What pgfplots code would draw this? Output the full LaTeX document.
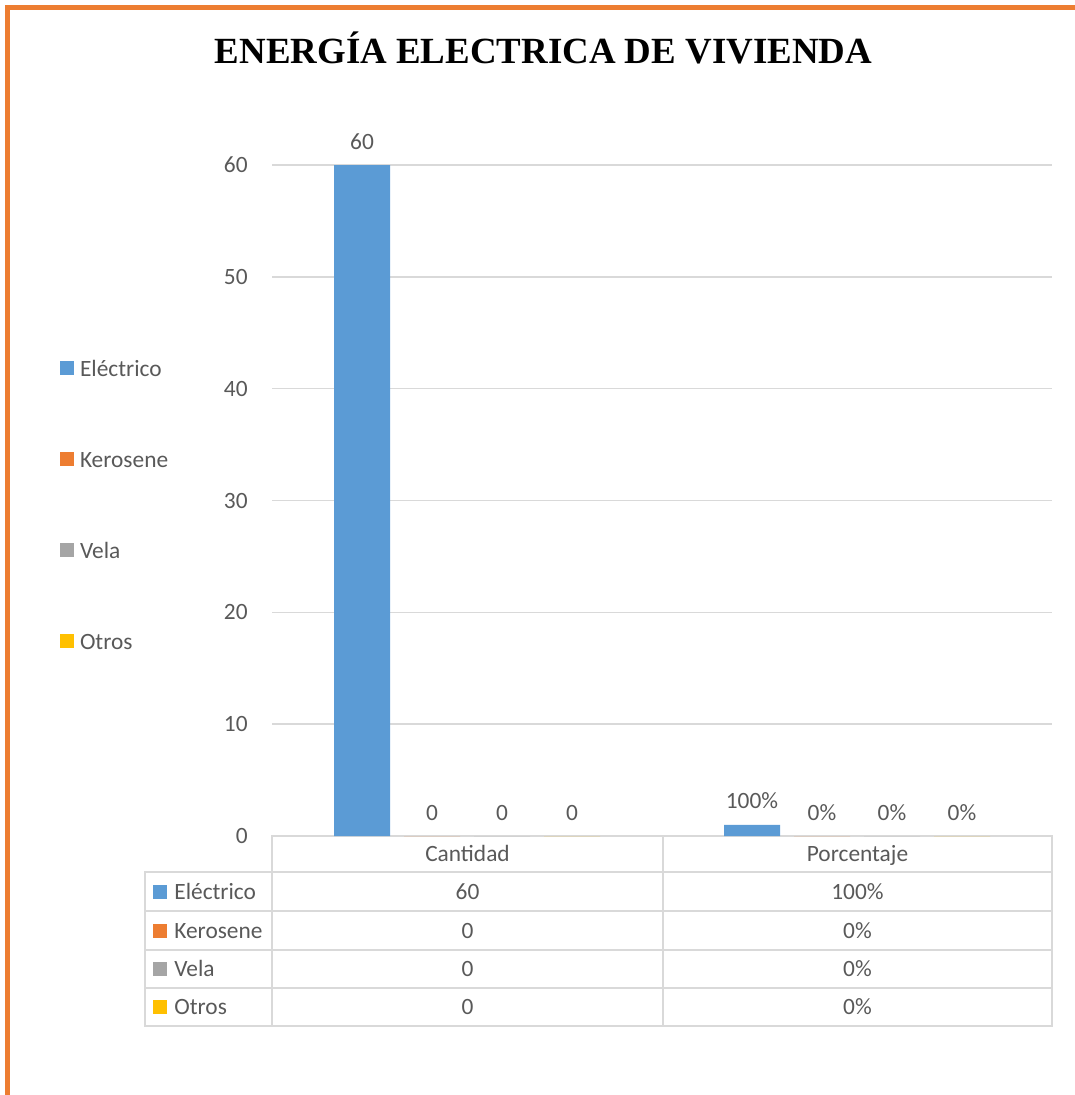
\documentclass[border=0pt]{standalone}
\usepackage{pgfplots}
\pgfplotsset{compat=1.18}
\usepackage{fontspec}
\setmainfont{Carlito}
\newfontfamily\titlefont{Liberation Serif}

\definecolor{elec}{HTML}{5B9BD5}
\definecolor{kero}{HTML}{ED7D31}
\definecolor{vela}{HTML}{A5A5A5}
\definecolor{otros}{HTML}{FFC000}
\definecolor{txt}{HTML}{595959}
\definecolor{gridc}{HTML}{D9D9D9}
\definecolor{borde}{HTML}{ED7D31}

\newcommand{\lbl}{\fontsize{13.3}{16}\selectfont}

\begin{document}
\begin{tikzpicture}
% frame, title and data table in pixel units of the reference
\begin{scope}[x=0.2mm, y=-0.2mm]
  \useasboundingbox (0,0) rectangle (1075,1095);
  \draw[borde, line width=1mm] (7.5,1095) -- (7.5,7.5) -- (1075,7.5);
  \node[anchor=base, inner sep=0pt, font=\titlefont\bfseries\fontsize{21}{24}\selectfont]
    at (543.5,63) {ENERGÍA ELECTRICA DE VIVIENDA};

  % table grid
  \begin{scope}[gridc, line width=0.3mm]
    \draw (272,836) rectangle (1052,1026);
    \draw (145,872) rectangle (272,1026);
    \foreach \yy in {872,911,950,988} \draw (145,\yy) -- (1052,\yy);
    \draw (663,836) -- (663,1026);
  \end{scope}

  % table text
  \begin{scope}[every node/.style={anchor=base, inner sep=0pt, text=txt, font=\lbl}]
    \node at (467.5,861.5) {Cantidad};
    \node at (857.5,861.5) {Porcentaje};
    \foreach \name/\c/\va/\vb/\b in {Eléctrico/elec/60/100\%/899,
                                     Kerosene/kero/0/0\%/938,
                                     Vela/vela/0/0\%/976.5,
                                     Otros/otros/0/0\%/1014.5}{
      \fill[\c] (153,\b-14.5) rectangle (167,\b-0.5);
      \node[anchor=base west] at (174,\b) {\name};
      \node at (467.5,\b) {\va};
      \node at (857.5,\b) {\vb};
    }
  \end{scope}
\end{scope}

\begin{axis}[
  at={(54.4mm,-167.2mm)}, anchor=south west,
  scale only axis, width=156mm, height=134.2mm,
  xmin=-0.5, xmax=1.5, ymin=0, ymax=60,
  xtick=\empty,
  ytick={0,10,...,60},
  axis line style={draw=none},
  major tick length=0pt,
  tick style={draw=none},
  ymajorgrids,
  grid style={gridc, line width=0.3mm},
  ticklabel style={font=\lbl, text=txt},
  yticklabel style={anchor=east, inner sep=0pt, xshift=-4.8mm},
  /pgf/number format/assume math mode=true,
  ybar=2.8mm, bar width=11.2mm,
  point meta=explicit symbolic,
  nodes near coords={\pgfplotspointmeta},
  every node near coord/.append style={anchor=base, inner sep=0pt, yshift=3.2mm,
    font=\lbl, text=txt},
  legend style={at={(-0.27179,0.70864)}, anchor=north west, draw=none, fill=none,
    inner sep=0pt, outer sep=0pt, row sep=14.3mm, column sep=1.2mm,
    font=\lbl, text=txt,
    cells={anchor=base west},
    nodes={inner sep=0pt, text height=3.1mm, text depth=0.8mm}},
  legend image code/.code={\fill[#1,draw=none] (0mm,0.2mm) rectangle (2.8mm,3.0mm);},
]
\addplot[fill=elec, draw=none] coordinates {(0,60) [60] (1,1) [100\%]};
\addplot[fill=kero, draw=none] coordinates {(0,0) [0] (1,0) [0\%]};
\addplot[fill=vela, draw=none] coordinates {(0,0) [0] (1,0) [0\%]};
\addplot[fill=otros, draw=none] coordinates {(0,0) [0] (1,0) [0\%]};
\legend{Eléctrico, Kerosene, Vela, Otros}
\end{axis}
\end{tikzpicture}
\end{document}
